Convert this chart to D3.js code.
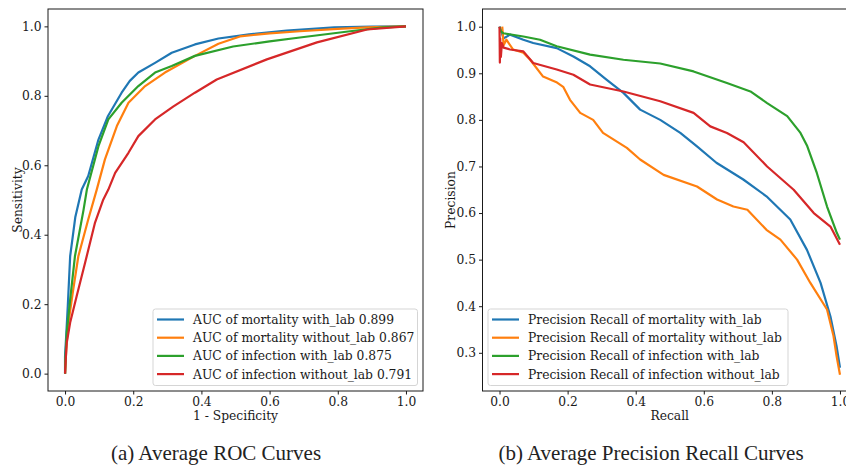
<!DOCTYPE html>
<html>
<head>
<meta charset="utf-8">
<script src="https://cdn.jsdelivr.net/npm/d3@7"></script>
<style>
  body { margin: 0; background: #fff; }
  svg { display: block; }
  .tick text { font-family: "DejaVu Serif"; font-size: 12.3px; fill: #1a1a1a; }
  .tick line { stroke: #1a1a1a; }
  .domain { display: none; }
  .lbl { font-family: "DejaVu Serif"; font-size: 12.3px; fill: #1a1a1a; }
</style>
</head>
<body>
<div id="chart"></div>
<script>
// ROC curves (1 - specificity, sensitivity)
var rocFprMortalityLab = [0, 0, 0.004, 0.008, 0.015, 0.03, 0.049, 0.068, 0.098, 0.126, 0.166, 0.19, 0.215, 0.264, 0.313, 0.381, 0.45, 0.54, 0.65, 0.79, 0.9, 1];
var rocTprMortalityLab = [0, 0.05, 0.12, 0.194, 0.338, 0.45, 0.53, 0.569, 0.674, 0.742, 0.809, 0.843, 0.867, 0.895, 0.924, 0.948, 0.965, 0.977, 0.988, 0.997, 0.999, 1];
var rocFprMortalityNoLab = [0, 0.004, 0.01, 0.024, 0.039, 0.068, 0.093, 0.117, 0.152, 0.186, 0.235, 0.293, 0.381, 0.45, 0.513, 0.6, 0.689, 0.8, 0.886, 1];
var rocTprMortalityNoLab = [0, 0.08, 0.147, 0.242, 0.338, 0.444, 0.53, 0.617, 0.713, 0.78, 0.828, 0.867, 0.915, 0.95, 0.971, 0.98, 0.986, 0.993, 0.997, 1];
var rocFprInfectionLab = [0, 0.002, 0.005, 0.015, 0.029, 0.054, 0.064, 0.098, 0.127, 0.166, 0.215, 0.264, 0.313, 0.381, 0.493, 0.6, 0.689, 0.836, 0.933, 1];
var rocTprInfectionLab = [0, 0.06, 0.118, 0.213, 0.338, 0.47, 0.53, 0.655, 0.732, 0.78, 0.828, 0.867, 0.886, 0.915, 0.942, 0.957, 0.968, 0.986, 0.997, 1];
var rocFprInfectionNoLab = [0, 0.002, 0.005, 0.015, 0.034, 0.059, 0.088, 0.112, 0.127, 0.147, 0.186, 0.215, 0.264, 0.317, 0.381, 0.445, 0.592, 0.739, 0.886, 1];
var rocTprInfectionNoLab = [0, 0.04, 0.089, 0.147, 0.223, 0.32, 0.435, 0.501, 0.53, 0.578, 0.636, 0.684, 0.732, 0.769, 0.809, 0.847, 0.905, 0.954, 0.991, 1];

// Precision recall curves (recall, precision)
var prRecallMortalityLab = [0, 0.005, 0.012, 0.031, 0.07, 0.099, 0.168, 0.217, 0.266, 0.315, 0.364, 0.413, 0.472, 0.531, 0.58, 0.637, 0.716, 0.784, 0.854, 0.903, 0.943, 0.972, 0.99, 1];
var prPrecisionMortalityLab = [1, 0.99, 0.975, 0.983, 0.972, 0.965, 0.954, 0.936, 0.915, 0.886, 0.858, 0.822, 0.8, 0.772, 0.743, 0.708, 0.672, 0.636, 0.586, 0.521, 0.45, 0.378, 0.314, 0.268];
var prRecallMortalityNoLab = [0.008, 0.012, 0.02, 0.04, 0.07, 0.09, 0.128, 0.169, 0.187, 0.207, 0.237, 0.275, 0.304, 0.374, 0.413, 0.482, 0.58, 0.639, 0.687, 0.728, 0.784, 0.825, 0.874, 0.913, 0.962, 0.981, 0.99, 1];
var prPrecisionMortalityNoLab = [1, 0.96, 0.972, 0.951, 0.944, 0.929, 0.893, 0.88, 0.871, 0.843, 0.815, 0.8, 0.772, 0.74, 0.715, 0.682, 0.657, 0.629, 0.614, 0.607, 0.564, 0.543, 0.5, 0.45, 0.393, 0.336, 0.293, 0.253];
var prRecallInfectionLab = [0, 0.004, 0.011, 0.07, 0.119, 0.168, 0.266, 0.364, 0.472, 0.57, 0.668, 0.737, 0.786, 0.845, 0.884, 0.903, 0.932, 0.962, 0.991, 1];
var prPrecisionInfectionLab = [1, 0.99, 0.986, 0.979, 0.972, 0.958, 0.94, 0.929, 0.921, 0.904, 0.879, 0.861, 0.836, 0.808, 0.772, 0.745, 0.686, 0.614, 0.557, 0.543];
var prRecallInfectionNoLab = [0, 0.001, 0.002, 0.004, 0.007, 0.012, 0.031, 0.07, 0.099, 0.168, 0.217, 0.266, 0.364, 0.472, 0.57, 0.619, 0.668, 0.717, 0.786, 0.864, 0.923, 0.972, 1];
var prPrecisionInfectionNoLab = [1, 0.923, 0.975, 0.935, 0.965, 0.955, 0.951, 0.947, 0.922, 0.908, 0.897, 0.876, 0.861, 0.84, 0.815, 0.786, 0.772, 0.752, 0.7, 0.65, 0.6, 0.571, 0.532];

var rocLabels = ["AUC of mortality with_lab 0.899", "AUC of mortality without_lab 0.867",
                 "AUC of infection with_lab 0.875", "AUC of infection without_lab 0.791"];
var prLabels = ["Precision Recall of mortality with_lab", "Precision Recall of mortality without_lab",
                "Precision Recall of infection with_lab", "Precision Recall of infection without_lab"];
var xTicks = [0, 0.2, 0.4, 0.6, 0.8, 1.0];
var rocYTicks = [0, 0.2, 0.4, 0.6, 0.8, 1.0];
var prYTicks = [0.3, 0.4, 0.5, 0.6, 0.7, 0.8, 0.9, 1.0];
var colors = ["#1f77b4", "#ff7f0e", "#2ca02c", "#d62728"];

function zipXY(xs, ys) {
    return xs.map(function(x, i) { return [x, ys[i]]; });
}

function init() {
    var w = 846, h = 465;
    var svg = d3.select("#chart").append("svg")
        .attr("width", w).attr("height", h);

    var rocSeries = [
        zipXY(rocFprMortalityLab, rocTprMortalityLab),
        zipXY(rocFprMortalityNoLab, rocTprMortalityNoLab),
        zipXY(rocFprInfectionLab, rocTprInfectionLab),
        zipXY(rocFprInfectionNoLab, rocTprInfectionNoLab)
    ];
    var prSeries = [
        zipXY(prRecallMortalityLab, prPrecisionMortalityLab),
        zipXY(prRecallMortalityNoLab, prPrecisionMortalityNoLab),
        zipXY(prRecallInfectionLab, prPrecisionInfectionLab),
        zipXY(prRecallInfectionNoLab, prPrecisionInfectionNoLab)
    ];

    drawPanel({
        x: d3.scaleLinear().domain([-0.05, 1.05]).range([48, 423]),
        y: d3.scaleLinear().domain([-0.05, 1.05]).range([391, 9]),
        yTicks: rocYTicks,
        series: rocSeries, labels: rocLabels,
        xLabel: "1 - Specificity", yLabel: "Sensitivity", yLabelX: 17,
        legend: { x: 153, y: 309, w: 264.5, h: 76.5 },
        caption: "(a) Average ROC Curves", captionX: 216
    });

    drawPanel({
        x: d3.scaleLinear().domain([-0.05, 1.05]).range([482.5, 857]),
        y: d3.scaleLinear().domain([0.218, 1.038]).range([391, 9]),
        yTicks: prYTicks,
        series: prSeries, labels: prLabels,
        xLabel: "Recall", yLabel: "Precision", yLabelX: 450,
        legend: { x: 488, y: 309, w: 300, h: 76.5 },
        caption: "(b) Average Precision Recall Curves", captionX: 651
    });

    function drawPanel(p) {
        var g = svg.append("g");
        var x0 = p.x.range()[0], x1 = p.x.range()[1];
        var y0 = p.y.range()[1], y1 = p.y.range()[0];

        g.append("g")
            .attr("transform", "translate(0," + y1 + ")")
            .call(d3.axisBottom(p.x).tickValues(xTicks).tickFormat(d3.format(".1f"))
                .tickSize(3.5).tickPadding(3));
        g.append("g")
            .attr("transform", "translate(" + x0 + ",0)")
            .call(d3.axisLeft(p.y).tickValues(p.yTicks).tickFormat(d3.format(".1f"))
                .tickSize(3.5).tickPadding(3));

        var line = d3.line()
            .x(function(d) { return p.x(d[0]); })
            .y(function(d) { return p.y(d[1]); });

        g.selectAll("path.curve")
            .data(p.series)
            .enter()
            .append("path")
            .attr("class", "curve")
            .attr("d", line)
            .attr("fill", "none")
            .attr("stroke", function(d, i) { return colors[i]; })
            .attr("stroke-width", 2.2)
            .attr("stroke-linejoin", "round");

        // axes frame
        g.append("rect")
            .attr("x", x0).attr("y", y0)
            .attr("width", x1 - x0).attr("height", y1 - y0)
            .attr("fill", "none")
            .attr("stroke", "#1a1a1a")
            .attr("stroke-width", 1);

        // legend
        var lg = g.append("g");
        lg.append("rect")
            .attr("x", p.legend.x).attr("y", p.legend.y)
            .attr("width", p.legend.w).attr("height", p.legend.h)
            .attr("rx", 2.5)
            .attr("fill", "#fff").attr("fill-opacity", 0.8)
            .attr("stroke", "#d5d5d5");
        var items = lg.selectAll("g.item")
            .data(p.labels)
            .enter()
            .append("g")
            .attr("class", "item")
            .attr("transform", function(d, i) {
                return "translate(" + (p.legend.x + 4) + "," + (p.legend.y + 10.5 + i * 18.2) + ")";
            });
        items.append("line")
            .attr("x1", 0).attr("x2", 27)
            .attr("stroke", function(d, i) { return colors[i]; })
            .attr("stroke-width", 2.2);
        items.append("text")
            .attr("class", "lbl")
            .attr("x", 36).attr("y", 4.5)
            .text(function(d) { return d; });

        // axis labels
        g.append("text")
            .attr("class", "lbl")
            .attr("x", (x0 + x1) / 2).attr("y", 420)
            .attr("text-anchor", "middle")
            .text(p.xLabel);
        g.append("text")
            .attr("class", "lbl")
            .attr("transform", "translate(" + (p.yLabelX + 4.5) + "," + ((y0 + y1) / 2) + ") rotate(-90)")
            .attr("text-anchor", "middle")
            .text(p.yLabel);

        // caption
        g.append("text")
            .attr("x", p.captionX).attr("y", 460)
            .attr("text-anchor", "middle")
            .attr("font-family", "Liberation Serif")
            .attr("font-size", "21px")
            .attr("fill", "#222")
            .text(p.caption);
    }
}
window.onload = init;
</script>
</body>
</html>
